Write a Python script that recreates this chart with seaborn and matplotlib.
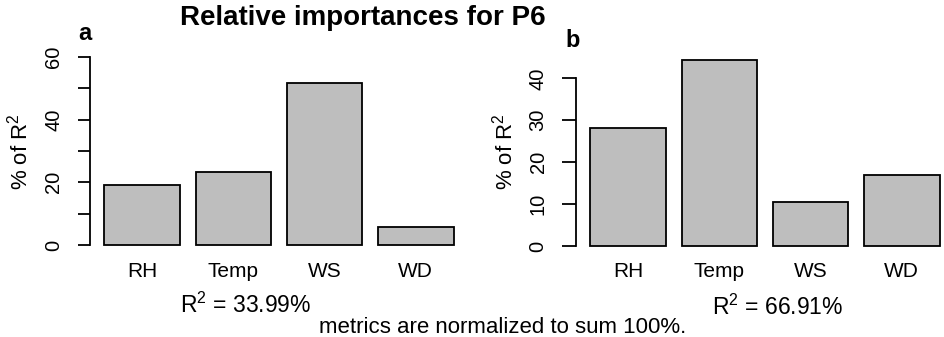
import matplotlib
matplotlib.use('Agg')
import matplotlib.pyplot as plt
import seaborn as sns

# ---- data ----
categories = ['RH', 'Temp', 'WS', 'WD']
values_a = [19.1, 23.4, 51.7, 5.8]
values_b = [28.1, 44.4, 10.5, 17.0]
yticks_a = [0, 10, 20, 30, 40, 50, 60]
yticklabels_a = ['0', '', '20', '', '40', '', '60']
yticks_b = [0, 10, 20, 30, 40]
yticklabels_b = ['0', '10', '20', '30', '40']
r2_a = 'R$^{2}$ = 33.99%'
r2_b = 'R$^{2}$ = 66.91%'
title = 'Relative importances for P6'
note = 'metrics are normalized to sum 100%.'
ylabel = '% of R$^{2}$'

sns.set_theme(style='white')
plt.rcParams['font.family'] = ['Liberation Sans', 'DejaVu Sans']
plt.rcParams['mathtext.fontset'] = 'custom'
plt.rcParams['mathtext.rm'] = 'Liberation Sans'
plt.rcParams['mathtext.it'] = 'Liberation Sans:italic'
plt.rcParams['mathtext.bf'] = 'Liberation Sans:bold'
plt.rcParams['text.color'] = 'black'
plt.rcParams['axes.labelcolor'] = 'black'
plt.rcParams['xtick.color'] = 'black'
plt.rcParams['ytick.color'] = 'black'

W, H = 944, 337
fig = plt.figure(figsize=(W / 100, H / 100), dpi=100)


def make_axes(x0, x1, top, bot):
    return fig.add_axes([x0 / W, 1 - bot / H, (x1 - x0) / W, (bot - top) / H])


def draw_panel(ax, vals, ticks, ticklabels, zero_px, ppu, top_px, bot_px, ticklen):
    sns.barplot(x=categories, y=vals, color='#bebebe', saturation=1,
                edgecolor='black', linewidth=1.3, width=0.833,
                errorbar=None, ax=ax)
    ax.set_xlim(-0.575, 3.57)
    ax.set_ylim((zero_px - bot_px) / ppu, (zero_px - top_px) / ppu)
    for s in ['top', 'right', 'bottom']:
        ax.spines[s].set_visible(False)
    ax.spines['left'].set_bounds(ticks[0], ticks[-1])
    ax.spines['left'].set_linewidth(1.3)
    ax.spines['left'].set_color('black')
    ax.set_yticks(ticks)
    ax.set_yticklabels(ticklabels)
    ax.tick_params(axis='y', left=True, length=ticklen, width=1.3, color='black',
                   pad=10.5, labelsize=14.5, labelrotation=90, labelcolor='black')
    for lab in ax.get_yticklabels():
        lab.set_va('center')
    ax.tick_params(axis='x', length=0, pad=8, labelsize=15, labelcolor='black')
    ax.set_xlabel('')
    ax.set_ylabel('')
    ax.patch.set_alpha(0)


ax1 = make_axes(90, 467.5, 50, 251)
draw_panel(ax1, values_a, yticks_a, yticklabels_a, 245, 3.133, 50, 251, 8.8)
ax2 = make_axes(576, 953.5, 50, 251)
draw_panel(ax2, values_b, yticks_b, yticklabels_b, 246, 4.19, 50, 251, 10)


def ftext(px, py, s, **kw):
    fig.text(px / W, 1 - py / H, s, **kw)


ftext(180, 25, title, ha='left', va='baseline', fontsize=20, fontweight='bold')
ftext(78, 40, 'a', ha='left', va='baseline', fontsize=17, fontweight='bold')
ftext(565, 47, 'b', ha='left', va='baseline', fontsize=17, fontweight='bold')
ftext(20, 152, ylabel, ha='center', va='center', rotation=90, fontsize=16)
ftext(505, 152, ylabel, ha='center', va='center', rotation=90, fontsize=16)
ftext(180, 313, r2_a, ha='left', va='baseline', fontsize=16.5)
ftext(712, 315, r2_b, ha='left', va='baseline', fontsize=16.5)
ftext(319, 333, note, ha='left', va='baseline', fontsize=16)

fig.savefig('out.png', dpi=100)
